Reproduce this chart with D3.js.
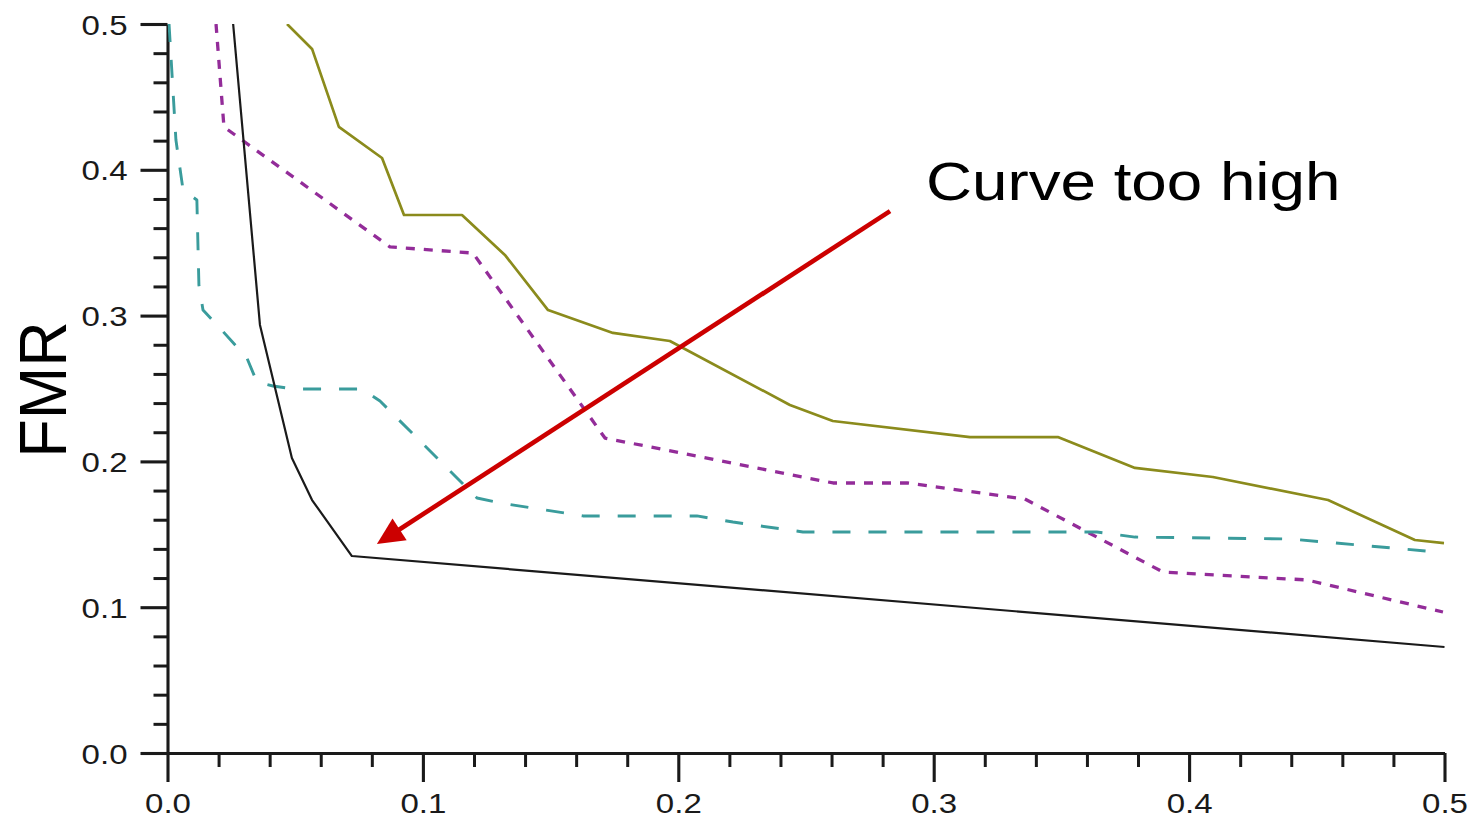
<!DOCTYPE html>
<html>
<head>
<meta charset="utf-8">
<script src="https://cdn.jsdelivr.net/npm/d3@7"></script>
<style>
  html, body { margin: 0; padding: 0; background: #fff; }
  svg { display: block; }
  text { font-family: "Liberation Sans", Arial, Helvetica, sans-serif; }
</style>
</head>
<body>
<svg id="chart" width="1471" height="822"></svg>
<script>
// ---- data ----
const xMajorTicks = [0.0, 0.1, 0.2, 0.3, 0.4, 0.5];
const xTickLabels = ["0.0", "0.1", "0.2", "0.3", "0.4", "0.5"];
const yMajorTicks = [0.0, 0.1, 0.2, 0.3, 0.4, 0.5];
const yTickLabels = ["0.0", "0.1", "0.2", "0.3", "0.4", "0.5"];
const minorStep = 0.02;

const blackX = [0.0257, 0.0362, 0.0487, 0.0566, 0.0722, 0.5];
const blackY = [0.5, 0.2936, 0.2023, 0.1735, 0.1351, 0.0727];

const oliveX = [0.0468, 0.0566, 0.0671, 0.0840, 0.0926, 0.1153, 0.1321, 0.1490, 0.1744, 0.1967, 0.2437, 0.2605, 0.3142, 0.3486, 0.3788, 0.4093, 0.4544, 0.4884, 0.4998];
const oliveY = [0.5, 0.4829, 0.4294, 0.4081, 0.3690, 0.3690, 0.3416, 0.3038, 0.2881, 0.2826, 0.2387, 0.2277, 0.2167, 0.2167, 0.1955, 0.1893, 0.1735, 0.1461, 0.1440];

const purpleX = [0.0190, 0.0221, 0.0871, 0.1196, 0.1713, 0.2606, 0.2896, 0.3357, 0.3898, 0.4461, 0.4994];
const purpleY = [0.5, 0.4294, 0.3471, 0.3429, 0.2160, 0.1852, 0.1852, 0.1742, 0.1241, 0.1187, 0.0967];

const tealX = [0.0006, 0.0033, 0.0061, 0.0115, 0.0123, 0.0139, 0.0194, 0.0311, 0.0350, 0.0413, 0.0491, 0.0762, 0.0832, 0.1212, 0.1302, 0.1627, 0.2073, 0.2214, 0.2488, 0.3639, 0.3788, 0.4395, 0.4931, 0.4994];
const tealY = [0.5, 0.4204, 0.3861, 0.3793, 0.3210, 0.3039, 0.2936, 0.2709, 0.2545, 0.2517, 0.2497, 0.2497, 0.2414, 0.1749, 0.1715, 0.1626, 0.1626, 0.1584, 0.1516, 0.1516, 0.1481, 0.1468, 0.1385, 0.1385];

const yLabel = "FMR";
const annotationText = "Curve too high";
const arrowFrom = [0.2829, 0.3717];
const arrowTo = [0.0820, 0.1433];
const annotationPos = [0.297, 0.3796];

// ---- layout ----
const svg = d3.select("#chart");
const plotLeft = 167.5, plotRight = 1444.5, plotTop = 24, plotBottom = 753;
const x = d3.scaleLinear().domain([0, 0.5]).range([plotLeft, plotRight]);
const y = d3.scaleLinear().domain([0, 0.5]).range([plotBottom, plotTop]);
const stretch = 1.18;
const axisColor = "#1a1a1a";

const minorVals = d3.range(0, 0.5 + 1e-9, minorStep).filter(v => Math.abs(v * 10 - Math.round(v * 10)) > 1e-6);

// minor ticks
svg.append("g").attr("transform", `translate(${plotLeft},0)`)
  .call(d3.axisLeft(y).tickValues(minorVals).tickSize(14).tickFormat(""))
  .call(g => g.select(".domain").remove())
  .call(g => g.selectAll("line").attr("stroke", axisColor).attr("stroke-width", 3));
svg.append("g").attr("transform", `translate(0,${plotBottom})`)
  .call(d3.axisBottom(x).tickValues(minorVals).tickSize(14).tickFormat(""))
  .call(g => g.select(".domain").remove())
  .call(g => g.selectAll("line").attr("stroke", axisColor).attr("stroke-width", 3));

// major y axis
svg.append("g").attr("transform", `translate(${plotLeft},0)`)
  .call(d3.axisLeft(y).tickValues(yMajorTicks).tickSize(27).tickSizeOuter(0)
        .tickFormat((d, i) => yTickLabels[i]))
  .call(g => g.select(".domain").attr("stroke", axisColor).attr("stroke-width", 3.1))
  .call(g => g.selectAll("line").attr("stroke", axisColor).attr("stroke-width", 3.1))
  .call(g => g.selectAll("text")
      .attr("font-size", 28).attr("fill", "#1a1a1a")
      .attr("font-family", "Liberation Sans, Arial, sans-serif")
      .attr("x", -40 / stretch).attr("dy", "0.36em")
      .attr("transform", `scale(${stretch},1)`));

// major x axis
svg.append("g").attr("transform", `translate(0,${plotBottom})`)
  .call(d3.axisBottom(x).tickValues(xMajorTicks).tickSize(29).tickSizeOuter(0)
        .tickFormat((d, i) => xTickLabels[i]))
  .call(g => g.select(".domain").attr("stroke", axisColor).attr("stroke-width", 3.1))
  .call(g => g.selectAll("line").attr("stroke", axisColor).attr("stroke-width", 3.1))
  .call(g => g.selectAll("text")
      .attr("font-size", 28).attr("fill", "#1a1a1a")
      .attr("font-family", "Liberation Sans, Arial, sans-serif")
      .attr("y", 40).attr("dy", "0.71em")
      .attr("transform", `scale(${stretch},1)`));

// y label
svg.append("text")
  .attr("transform", `translate(66,${(plotTop + plotBottom) / 2 + 1}) rotate(-90) scale(1,1.07)`)
  .attr("text-anchor", "middle")
  .attr("font-size", 63)
  .attr("fill", "#000")
  .text(yLabel);

// clip
svg.append("defs").append("clipPath").attr("id", "plotclip")
  .append("rect").attr("x", plotLeft).attr("y", plotTop).attr("width", plotRight - plotLeft + 2).attr("height", plotBottom - plotTop);

const line = d3.line().x(d => x(d[0])).y(d => y(d[1]));
const plot = svg.append("g").attr("clip-path", "url(#plotclip)");

const series = [
  { xs: oliveX, ys: oliveY, color: "#8b8b1c", width: 2.7, dash: null },
  { xs: purpleX, ys: purpleY, color: "#932c99", width: 3.3, dash: "9,9" },
  { xs: tealX, ys: tealY, color: "#3a9c9c", width: 2.9, dash: "18,18" },
  { xs: blackX, ys: blackY, color: "#1a1a1a", width: 2.2, dash: null }
];
series.forEach(s => {
  const pts = s.xs.map((v, i) => [v, s.ys[i]]);
  plot.append("path")
    .attr("d", line(pts))
    .attr("fill", "none")
    .attr("stroke", s.color)
    .attr("stroke-width", s.width)
    .attr("stroke-linejoin", "round")
    .attr("stroke-dasharray", s.dash);
});

// annotation arrow
const ax0 = x(arrowFrom[0]), ay0 = y(arrowFrom[1]);
const ax1 = x(arrowTo[0]), ay1 = y(arrowTo[1]);
const ang = Math.atan2(ay1 - ay0, ax1 - ax0);
const headLen = 27, headHalf = 13;
const bx = ax1 - headLen * Math.cos(ang), by = ay1 - headLen * Math.sin(ang);
svg.append("line")
  .attr("x1", ax0).attr("y1", ay0).attr("x2", bx + 3 * Math.cos(ang)).attr("y2", by + 3 * Math.sin(ang))
  .attr("stroke", "#cc0000").attr("stroke-width", 4.6);
svg.append("path")
  .attr("d", `M${ax1},${ay1} L${bx - headHalf * Math.sin(ang)},${by + headHalf * Math.cos(ang)} L${bx + headHalf * Math.sin(ang)},${by - headHalf * Math.cos(ang)} Z`)
  .attr("fill", "#cc0000");

svg.append("text")
  .attr("transform", `translate(${x(annotationPos[0])},${y(annotationPos[1])}) scale(${stretch},1)`)
  .attr("font-size", 54)
  .attr("fill", "#000")
  .text(annotationText);
</script>
</body>
</html>
